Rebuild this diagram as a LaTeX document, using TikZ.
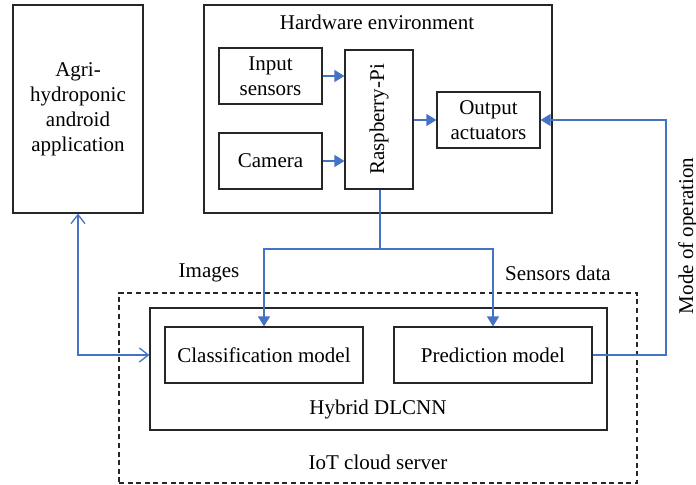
\documentclass[tikz,border=0pt]{standalone}
\usepackage{fontspec}
\setmainfont{Liberation Serif}
\usetikzlibrary{arrows.meta}
\definecolor{linkblue}{RGB}{68,114,196}
\begin{document}
\begin{tikzpicture}[x=0.5pt,y=-0.5pt,
  font=\fontsize{10.5}{12.5}\selectfont,
  box/.style={draw=black!85,line width=0.6pt,inner sep=0pt,align=center},
  link/.style={draw=linkblue,line width=0.65pt},
  solidtip/.style={-{Triangle[length=5pt,width=6pt]}},
  opentips/.style={{Straight Barb[length=4.5pt,width=7pt,line width=0.65pt]}-{Straight Barb[length=4.5pt,width=7pt,line width=0.65pt]}},
  lbl/.style={inner sep=0pt}]
\useasboundingbox (0,0) rectangle (696,485);

% Mobile application
\node[box,minimum width=65pt,minimum height=104pt] (app) at (78,109)
  {Agri-\\hydroponic\\android\\application};

% Hardware environment
\node[box,minimum width=174pt,minimum height=104pt] (hw) at (378,109) {};
\node[lbl] (hwlbl) at (377,22) {Hardware environment};
\node[box,minimum width=51.5pt,minimum height=28pt] (insens) at (270.5,76) {Input\\sensors};
\node[box,minimum width=51.5pt,minimum height=28pt] (cam) at (270.5,161) {Camera};
\node[box,minimum width=34pt,minimum height=69.5pt] (rpi) at (379,119.5) {};
\node[lbl,rotate=90] (rpilbl) at (rpi.center) {Raspberry-Pi};
\node[box,minimum width=51.5pt,minimum height=28pt] (out) at (488.5,120) {Output\\actuators};

% Cloud side
\node[box,dashed,dash pattern=on 2.5pt off 1.8pt,minimum width=259pt,minimum height=95pt] (cloud) at (378,388) {};
\node[lbl] (cloudlbl) at (378,462) {IoT cloud server};
\node[box,minimum width=228.5pt,minimum height=61pt] (dlcnn) at (378.5,369) {};
\node[lbl] (dlcnnlbl) at (378,409) {Hybrid DLCNN};
\node[box,minimum width=99pt,minimum height=28pt] (cls) at (264,355) {Classification model};
\node[box,minimum width=99pt,minimum height=28pt] (pred) at (493,355) {Prediction model};

\node[lbl] (imglbl) at (209,273) {Images};
\node[lbl] (senslbl) at (558,273) {Sensors data};
\node[lbl,rotate=90] (modelbl) at (688,236) {Mode of operation};

% Hardware links
\draw[link,solidtip] (insens.east) -- (insens.east -| rpi.west);
\draw[link,solidtip] (cam.east) -- (cam.east -| rpi.west);
\draw[link,solidtip] (rpi.east |- out.west) -- (out.west);

% Data upload to the cloud
\coordinate (split) at (380,249);
\draw[link] (rpi.south -| split) -- (split);
\draw[link,solidtip] (split) -| (cls.north);
\draw[link,solidtip] (split) -| (pred.north);

% Feedback to the actuators
\coordinate (turn) at (666,355);
\draw[link,solidtip] (pred.east) -- (turn) |- (out.east);

% App <-> cloud
\draw[link,opentips] (app.south) |- (dlcnn.west |- cls.west);
\end{tikzpicture}
\end{document}
